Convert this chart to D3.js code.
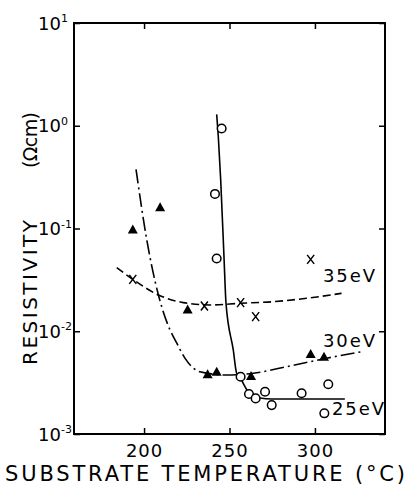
<!DOCTYPE html>
<html lang="en">
<head>
<meta charset="UTF-8">
<title>Resistivity vs substrate temperature</title>
<script src="https://d3js.org/d3.v7.min.js"></script>
<style>
  body { margin: 0; background: #fff; }
  text { font-family: "DejaVu Sans", Arial, sans-serif; fill: #000; }
</style>
</head>
<body>
<div id="chart"></div>
<script>
// axis ticks
const tempTicks = [200, 250, 300];
const decadeExps = [1, 0, -1, -2, -3];

// 25 eV : open circles + solid curve
const t25 = [245.4, 241.5, 242.5, 256.5, 261.4, 265.3, 270.8, 274.7, 292.2, 307.8, 305.5];
const r25 = [0.94, 0.217, 0.051, 0.00361, 0.00245, 0.00222, 0.00258, 0.00191, 0.00249, 0.00305, 0.00159];
const c25T = [242.5, 243.45, 244.85, 246.8, 247.95, 252.2, 254.2, 256.1, 258.5, 262, 267.8, 274.7, 317.5];
const c25R = [1.29, 0.782, 0.296, 0.0517, 0.0188, 0.00658, 0.0039, 0.00359, 0.0030, 0.00245, 0.00224, 0.00219, 0.00219];

// 30 eV : filled triangles + dash-dot curve
const t30 = [193.4, 209.4, 225.5, 237.2, 242.5, 262.6, 297.5, 305.3];
const r30 = [0.098, 0.161, 0.0163, 0.00381, 0.00404, 0.00367, 0.0060, 0.00565];
const c30T = [195.3, 201.6, 208.4, 214, 219.1, 224, 232.7, 248.4, 263.9, 283.5, 306.8, 327.3];
const c30R = [0.377, 0.0773, 0.02254, 0.0115, 0.00769, 0.00545, 0.00404, 0.00375, 0.0039, 0.00452, 0.00546, 0.00632];

// 35 eV : crosses + dashed curve
const t35 = [193.4, 235.3, 256.5, 265.3, 297.5];
const r35 = [0.032, 0.0176, 0.019, 0.01387, 0.0501];
const c35T = [184, 193.4, 208.4, 223, 238.6, 256.1, 275.6, 295.1, 315.6];
const c35R = [0.0416, 0.032, 0.02254, 0.019, 0.01803, 0.0187, 0.0194, 0.02094, 0.0234];

const W = 408, H = 485;
const svg = d3.select("#chart").append("svg").attr("width", W).attr("height", H);

const x = d3.scaleLinear().domain([159, 341]).range([74, 385]);
const y = d3.scaleLog().domain([1e-3, 10]).range([434, 23]);

const zip = (a, b) => a.map((v, i) => [v, b[i]]);
const line = d3.line().x(d => x(d[0])).y(d => y(d[1])).curve(d3.curveMonotoneX);

// axes (ticks pointing inward)
const axisStyle = g => {
  g.select(".domain").remove();
  g.selectAll(".tick line").attr("stroke", "#000").attr("stroke-width", 1.5);
};
svg.append("g").attr("transform", `translate(0,${y.range()[0]})`)
  .call(d3.axisBottom(x).tickValues(tempTicks).tickSize(-6).tickPadding(10))
  .call(axisStyle)
  .call(g => g.selectAll(".tick text").attr("font-size", 18).attr("letter-spacing", 1)
    .attr("font-family", "DejaVu Sans"));
svg.append("g").attr("transform", `translate(0,${y.range()[1]})`)
  .call(d3.axisTop(x).tickValues(tempTicks).tickSize(-6).tickFormat(""))
  .call(axisStyle);
const decades = decadeExps.map(e => Math.pow(10, e));
svg.append("g").attr("transform", `translate(${x.range()[0]},0)`)
  .call(d3.axisLeft(y).tickValues(decades).tickSize(-6).tickFormat(""))
  .call(axisStyle);
svg.append("g").attr("transform", `translate(${x.range()[1]},0)`)
  .call(d3.axisRight(y).tickValues(decades).tickSize(-6).tickFormat(""))
  .call(axisStyle);

// frame
svg.append("rect")
  .attr("x", x.range()[0]).attr("y", y.range()[1])
  .attr("width", x.range()[1] - x.range()[0]).attr("height", y.range()[0] - y.range()[1])
  .attr("fill", "none").attr("stroke", "#000").attr("stroke-width", 2);

// y tick labels 10^n
svg.append("g").selectAll("text").data(decadeExps).join("text")
  .attr("x", 61).attr("y", e => y(Math.pow(10, e)) + 6.5)
  .attr("text-anchor", "end").attr("font-size", 18).text("10");
svg.append("g").selectAll("text").data(decadeExps).join("text")
  .attr("x", 61).attr("y", e => y(Math.pow(10, e)) - 1)
  .attr("font-size", 11).text(e => String(e));

// axis titles
svg.append("text").attr("x", 5).attr("y", 481).attr("font-size", 21)
  .attr("textLength", 400).attr("lengthAdjust", "spacing")
  .text("SUBSTRATE TEMPERATURE (\u00B0C)");
svg.append("text").attr("transform", "translate(37,365) rotate(-90)").attr("font-size", 20)
  .attr("textLength", 145).attr("lengthAdjust", "spacing").text("RESISTIVITY");
svg.append("text").attr("transform", "translate(37,168) rotate(-90)").attr("font-size", 19)
  .attr("textLength", 56).attr("lengthAdjust", "spacing").text("(\u03A9cm)");

// curves
svg.append("path").datum(zip(c35T, c35R)).attr("d", line)
  .attr("fill", "none").attr("stroke", "#000").attr("stroke-width", 1.6).attr("stroke-dasharray", "8,4");
svg.append("path").datum(zip(c30T, c30R)).attr("d", line)
  .attr("fill", "none").attr("stroke", "#000").attr("stroke-width", 1.6).attr("stroke-dasharray", "14,4,2,4");
svg.append("path").datum(zip(c25T, c25R)).attr("d", line)
  .attr("fill", "none").attr("stroke", "#000").attr("stroke-width", 1.6);

// markers
svg.append("g").selectAll("path").data(zip(t35, r35)).join("path")
  .attr("transform", d => `translate(${x(d[0])},${y(d[1])})`)
  .attr("d", "M-3.5,-4.5L3.5,4.5M3.5,-4.5L-3.5,4.5")
  .attr("stroke", "#000").attr("stroke-width", 1.5).attr("fill", "none");
svg.append("g").selectAll("path").data(zip(t30, r30)).join("path")
  .attr("transform", d => `translate(${x(d[0])},${y(d[1])})`)
  .attr("d", "M0,-5L5,4L-5,4Z").attr("fill", "#000");
svg.append("g").selectAll("circle").data(zip(t25, r25)).join("circle")
  .attr("cx", d => x(d[0])).attr("cy", d => y(d[1])).attr("r", 4.3)
  .attr("fill", "#fff").attr("stroke", "#000").attr("stroke-width", 1.5);

// series labels
const labels = [["35eV", 323, 282], ["30eV", 323, 347], ["25eV", 332, 415]];
svg.append("g").selectAll("text").data(labels).join("text")
  .attr("x", d => d[1]).attr("y", d => d[2]).attr("font-size", 18)
  .attr("textLength", 52).attr("lengthAdjust", "spacing").text(d => d[0]);
</script>
</body>
</html>
